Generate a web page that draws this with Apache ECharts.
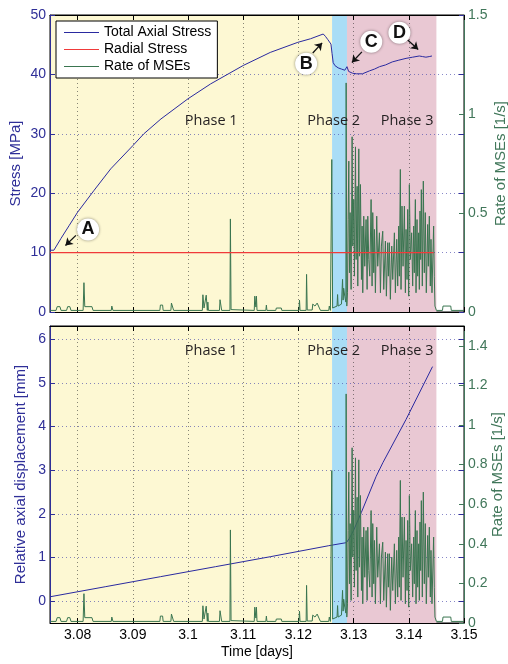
<!DOCTYPE html>
<html><head><meta charset="utf-8">
<script src="https://cdn.jsdelivr.net/npm/echarts@6/dist/echarts.min.js"></script>
<style>html,body{margin:0;padding:0;background:#fff}#c{width:508px;height:664px}</style>
</head><body><div id="c"></div>
<script>
// ---------- tick labels ----------
const xTicks = [3.08, 3.09, 3.10, 3.11, 3.12, 3.13, 3.14, 3.15];
const stressTicks = [0, 10, 20, 30, 40, 50];
const rateTicksTop = [0, 0.5, 1, 1.5];
const dispTicks = [0, 1, 2, 3, 4, 5, 6];
const rateTicksBottom = [0, 0.2, 0.4, 0.6, 0.8, 1, 1.2, 1.4];

// ---------- phases ----------
const phaseNames = ['Phase 1', 'Phase 2', 'Phase 3'];
const phaseStart = [3.075, 3.1261, 3.1288];
const phaseEnd = [3.1261, 3.1288, 3.1450];
const phaseLabelTime = [3.1042, 3.1264, 3.1397];

// ---------- total axial stress [MPa] ----------
const stressTime = [3.0750, 3.0757, 3.0770, 3.0785, 3.0800, 3.0830, 3.0860, 3.0900, 3.0920, 3.0951,
  3.1000, 3.1041, 3.1100, 3.1149, 3.1199, 3.1222, 3.1245, 3.1249, 3.1253, 3.1259,
  3.1261, 3.1263, 3.1266, 3.1272, 3.1278, 3.1284, 3.1288, 3.1291, 3.1298, 3.1305,
  3.1316, 3.1329, 3.1338, 3.1347, 3.1358, 3.1370, 3.1382, 3.1395, 3.1407, 3.1419,
  3.1425, 3.1431, 3.1437, 3.1442];
const stressValue = [10.4, 10.4, 12.4, 14.6, 16.8, 20.5, 24.1, 28.0, 30.0, 32.5,
  35.9, 38.4, 41.5, 43.7, 45.4, 46.0, 46.8, 46.4, 45.9, 45.1,
  43.5, 42.0, 41.5, 41.1, 40.9, 40.7, 41.3, 40.5, 40.2, 40.1,
  40.1, 40.6, 40.9, 41.3, 41.6, 42.1, 42.4, 42.7, 42.9, 43.1,
  43.0, 42.9, 43.0, 43.1];

// ---------- radial stress [MPa] ----------
const radialTime = [3.0750, 3.1445];
const radialValue = [10, 10];

// ---------- relative axial displacement [mm] ----------
const dispTime = [3.075, 3.085, 3.095, 3.105, 3.115, 3.1255, 3.1287, 3.1292, 3.1300, 3.1314, 3.1341, 3.1353, 3.1395, 3.1443];
const dispValue = [0.10, 0.33, 0.56, 0.79, 1.02, 1.27, 1.34, 1.43, 1.62, 2.03, 2.86, 3.17, 4.16, 5.37];

// ---------- rate of MSEs [1/s] ----------
const mseTime = [3.0750, 3.0761, 3.0763, 3.0768, 3.0770, 3.0780, 3.0782, 3.0786, 3.0788, 3.0810,
  3.08115, 3.0813, 3.0826, 3.0828, 3.0861, 3.0862, 3.0864, 3.0949, 3.0950, 3.0954,
  3.0955, 3.0969, 3.0970, 3.0973, 3.0974, 3.1026, 3.1027, 3.1029, 3.1032, 3.1033,
  3.1035, 3.1036, 3.1037, 3.1057, 3.1058, 3.1060, 3.1061, 3.1076, 3.10768, 3.1078,
  3.1120, 3.1121, 3.1123, 3.1124, 3.1125, 3.1141, 3.1142, 3.1143, 3.1159, 3.1160,
  3.1169, 3.1170, 3.1201, 3.1202, 3.1203, 3.1214, 3.12148, 3.1216, 3.1225, 3.1226,
  3.1230, 3.1234, 3.1238, 3.1240, 3.1255, 3.1256, 3.1258, 3.1260, 3.12605, 3.1262,
  3.1265, 3.1270, 3.1271, 3.1272, 3.1278, 3.1280, 3.1281, 3.1282, 3.1284, 3.1286,
  3.12865, 3.12877,
  3.12889, 3.12901, 3.12913, 3.12925, 3.12937, 3.12955, 3.12973, 3.12985, 3.13003, 3.13015,
  3.13034, 3.13046, 3.13064, 3.13076, 3.13094, 3.13106, 3.13124, 3.13142, 3.13154, 3.13166,
  3.13184, 3.13202, 3.13226, 3.13245, 3.13257, 3.13275, 3.13293, 3.13317, 3.13335, 3.13347,
  3.13365, 3.13377, 3.13395, 3.13419, 3.13437, 3.13468, 3.13486, 3.13504, 3.13528, 3.13546,
  3.13576, 3.13594, 3.13618, 3.13630, 3.13648, 3.13666, 3.13691, 3.13709, 3.13739, 3.13757,
  3.13781, 3.13799, 3.13817, 3.13829, 3.13847, 3.13859, 3.13877, 3.13896, 3.13920, 3.13938,
  3.13950, 3.13968, 3.13980, 3.13998, 3.14010, 3.14028, 3.14052, 3.14070, 3.14088, 3.14100,
  3.14119, 3.14131, 3.14149, 3.14161, 3.14179, 3.14191, 3.14203, 3.14215, 3.14227, 3.14245,
  3.14263, 3.14281, 3.14299, 3.14317, 3.14342, 3.14354, 3.14372, 3.14390, 3.14402, 3.14420,
  3.14450, 3.14462, 3.14474, 3.14486, 3.1450, 3.1461, 3.1462, 3.1476, 3.1477, 3.1500];
const mseRate = [0.008, 0.008, 0.027, 0.027, 0.008, 0.008, 0.027, 0.027, 0.008, 0.008,
  0.148, 0.027, 0.027, 0.008, 0.008, 0.030, 0.008, 0.008, 0.035, 0.035,
  0.008, 0.008, 0.045, 0.045, 0.008, 0.008, 0.087, 0.020, 0.020, 0.085,
  0.008, 0.050, 0.008, 0.008, 0.062, 0.062, 0.008, 0.008, 0.470, 0.012,
  0.008, 0.080, 0.025, 0.080, 0.008, 0.008, 0.035, 0.008, 0.008, 0.020,
  0.020, 0.008, 0.008, 0.060, 0.008, 0.008, 0.190, 0.010, 0.010, 0.040,
  0.030, 0.045, 0.020, 0.008, 0.008, 0.030, 0.008, 0.010, 0.770, 0.020,
  0.030, 0.030, 0.088, 0.030, 0.040, 0.165, 0.060, 0.120, 0.080, 0.050,
  1.157, 0.030,
  0.097, 0.467, 0.762, 0.198, 0.502, 0.114, 0.885, 0.333, 0.568, 0.181,
  0.834, 0.265, 0.635, 0.131, 0.824, 0.282, 0.644, 0.164, 0.434, 0.097,
  0.484, 0.231, 0.467, 0.114, 0.484, 0.265, 0.181, 0.568, 0.131, 0.502,
  0.198, 0.417, 0.097, 0.484, 0.231, 0.400, 0.097, 0.333, 0.408, 0.114,
  0.358, 0.080, 0.350, 0.181, 0.350, 0.064, 0.333, 0.164, 0.400, 0.097,
  0.367, 0.131, 0.434, 0.181, 0.720, 0.114, 0.535, 0.231, 0.535, 0.097,
  0.417, 0.164, 0.518, 0.080, 0.644, 0.265, 0.400, 0.131, 0.434, 0.198,
  0.568, 0.097, 0.467, 0.181, 0.400, 0.114, 0.510, 0.265, 0.618, 0.131,
  0.661, 0.198, 0.502, 0.097, 0.442, 0.231, 0.484, 0.131, 0.367, 0.097,
  0.434, 0.181, 0.030, 0.021, 0.008, 0.008, 0.030, 0.030, 0.008, 0.008];

// ---------- annotations (data coordinates of the top panel) ----------
const annotLetters = ['A', 'B', 'C', 'D'];
const annotAt = [[3.0819, 13.9], [3.1214, 41.8], [3.1332, 45.5], [3.1383, 47.0]];
const arrowFrom = [[3.0797, 12.9], [3.1226, 43.6], [3.1315, 43.8], [3.1398, 45.8]];
const arrowTo = [[3.0778, 11.2], [3.1243, 45.3], [3.1297, 42.0], [3.1417, 44.2]];

// ---------- styling ----------
const FONT = '"Liberation Sans", Arial, Helvetica, sans-serif';
const PHASE_FONT = '"Open Sans", "Noto Sans", sans-serif';
const BLUE_AX = '#2f2f98';
const GREEN_AX = '#41775a';
const GRID_H = 'rgba(70,70,170,0.65)';
const GRID_V = 'rgba(40,40,40,0.55)';
const C_STRESS = '#2a2aa0';
const C_RADIAL = '#f03a3a';
const C_MSE = '#3a7550';
const PHASE_COLORS = ['#fdf8d3', '#a9ddf6', '#e9c8d3'];
const xMin = 3.075, xMax = 3.15;

const zip = (a, b) => a.map((v, i) => [v, b[i]]);

const phaseAreas = phaseNames.map((n, i) => [
  { xAxis: phaseStart[i], itemStyle: { color: PHASE_COLORS[i] } },
  { xAxis: phaseEnd[i] }
]);
function phaseLabels(yVal) {
  return phaseNames.map((n, i) => ({
    coord: [phaseLabelTime[i], yVal], symbol: 'rect', symbolSize: 1,
    itemStyle: { color: 'rgba(0,0,0,0)' },
    label: { show: true, formatter: n, color: '#231f20', fontSize: 14.5, fontFamily: PHASE_FONT, position: 'inside' }
  }));
}

function xAx(gridIndex, pos, showLabels) {
  return {
    gridIndex, type: 'value', position: pos, min: xMin, max: xMax, z: 2,
    axisLine: { show: true, onZero: false, lineStyle: { color: '#000', width: 1 } },
    axisTick: { show: true, inside: true, length: 5, customValues: xTicks, lineStyle: { color: '#000' } },
    axisLabel: { show: showLabels, customValues: xTicks, color: '#000', fontSize: 14, fontFamily: FONT, margin: 5,
      formatter: v => String(+v.toFixed(2)) },
    splitLine: { show: pos === 'bottom', lineStyle: { color: GRID_V, type: [1, 3], width: 1 } }
  };
}
function yAx(gridIndex, pos, min, max, ticks, color, opts) {
  return Object.assign({
    gridIndex, type: 'value', position: pos, min, max, z: 2, nameMoveOverlap: false,
    axisLine: { show: true, onZero: false, lineStyle: { color, width: 1 } },
    axisTick: { show: true, inside: true, length: 5, customValues: ticks, lineStyle: { color } },
    axisLabel: { show: true, customValues: ticks, color, fontSize: 14, fontFamily: FONT, margin: 4 },
    splitLine: { show: false }
  }, opts || {});
}

const xAxis = [
  xAx(0, 'bottom', false), xAx(0, 'top', false),
  Object.assign(xAx(1, 'bottom', true), { name: 'Time [days]', nameLocation: 'middle', nameGap: 22, nameMoveOverlap: false,
    nameTextStyle: { color: '#000', fontSize: 14, fontFamily: FONT } }),
  xAx(1, 'top', false)
];
const yAxis = [
  yAx(0, 'left', 0, 50, stressTicks, BLUE_AX, {
    name: 'Stress [MPa]', nameLocation: 'middle', nameGap: 27,
    nameTextStyle: { color: BLUE_AX, fontSize: 15, fontFamily: FONT },
    splitLine: { show: true, lineStyle: { color: GRID_H, type: [1, 3], width: 1 } } }),
  yAx(0, 'right', 0, 1.5, rateTicksTop, GREEN_AX, {
    name: 'Rate of MSEs [1/s]', nameLocation: 'middle', nameGap: 29,
    nameTextStyle: { color: GREEN_AX, fontSize: 15, fontFamily: FONT } }),
  yAx(0, 'right', 0, 50, stressTicks, BLUE_AX, { axisLine: { show: false }, axisLabel: { show: false } }),
  yAx(1, 'left', -0.5, 6.3, dispTicks, BLUE_AX, {
    name: 'Relative axial displacement [mm]', nameLocation: 'middle', nameGap: 22,
    nameTextStyle: { color: BLUE_AX, fontSize: 15, fontFamily: FONT },
    splitLine: { show: true, lineStyle: { color: GRID_H, type: [1, 3], width: 1 } } }),
  yAx(1, 'right', 0, 1.5, rateTicksBottom, GREEN_AX, {
    name: 'Rate of MSEs [1/s]', nameLocation: 'middle', nameGap: 26,
    nameTextStyle: { color: GREEN_AX, fontSize: 15, fontFamily: FONT } }),
  yAx(1, 'right', -0.5, 6.3, dispTicks, BLUE_AX, { axisLine: { show: false }, axisLabel: { show: false } })
];

const annotPoints = annotLetters.map((L, i) => ({
  coord: annotAt[i], symbol: 'circle', symbolSize: 22,
  itemStyle: { color: '#fff', shadowBlur: 3, shadowColor: 'rgba(0,0,0,0.45)' },
  label: { show: true, formatter: L, color: '#111', fontSize: 18, fontWeight: 'bold', fontFamily: FONT, position: 'inside' }
}));
const annotArrows = annotLetters.map((L, i) => [{ coord: arrowFrom[i] }, { coord: arrowTo[i] }]);

const series = [
  { name: 'bgTop', type: 'line', xAxisIndex: 0, yAxisIndex: 0, data: [], z: 0, silent: true,
    markArea: { silent: true, data: phaseAreas },
    markPoint: { silent: true, data: phaseLabels(32.1) } },
  { name: 'Rate of MSEs', type: 'line', xAxisIndex: 0, yAxisIndex: 1, data: zip(mseTime, mseRate),
    symbol: 'none', lineStyle: { color: C_MSE, width: 1 }, itemStyle: { color: C_MSE }, z: 3 },
  { name: 'Radial Stress', type: 'line', xAxisIndex: 0, yAxisIndex: 0, data: zip(radialTime, radialValue),
    symbol: 'none', lineStyle: { color: C_RADIAL, width: 1.2 }, itemStyle: { color: C_RADIAL }, z: 4 },
  { name: 'Total Axial Stress', type: 'line', xAxisIndex: 0, yAxisIndex: 0, data: zip(stressTime, stressValue),
    symbol: 'none', lineStyle: { color: C_STRESS, width: 1 }, itemStyle: { color: C_STRESS }, z: 5,
    markPoint: { silent: true, data: annotPoints },
    markLine: { silent: true, symbol: ['none', 'arrow'], symbolSize: 7, label: { show: false },
      lineStyle: { color: '#111', width: 1.3, type: 'solid' }, data: annotArrows } },
  { name: 'bgBottom', type: 'line', xAxisIndex: 2, yAxisIndex: 3, data: [], z: 0, silent: true,
    markArea: { silent: true, data: phaseAreas },
    markPoint: { silent: true, data: phaseLabels(5.74) } },
  { name: 'Relative axial displacement', type: 'line', xAxisIndex: 2, yAxisIndex: 3, data: zip(dispTime, dispValue),
    symbol: 'none', lineStyle: { color: C_STRESS, width: 1 }, itemStyle: { color: C_STRESS }, z: 3 },
  { name: 'Rate of MSEs', type: 'line', xAxisIndex: 2, yAxisIndex: 4, data: zip(mseTime, mseRate),
    symbol: 'none', lineStyle: { color: C_MSE, width: 1 }, itemStyle: { color: C_MSE }, z: 4 }
];

const chart = echarts.init(document.getElementById('c'), null, { renderer: 'canvas' });
chart.setOption({
  animation: false,
  backgroundColor: '#fff',
  grid: [
    { left: 50, right: 44, top: 15, height: 297, containLabel: false, outerBoundsMode: 'none',
      show: true, borderColor: '#000', borderWidth: 1, backgroundColor: 'rgba(0,0,0,0)' },
    { left: 50, right: 44, top: 326, height: 297, containLabel: false, outerBoundsMode: 'none',
      show: true, borderColor: '#000', borderWidth: 1, backgroundColor: 'rgba(0,0,0,0)' }
  ],
  legend: {
    data: ['Total Axial Stress', 'Radial Stress', 'Rate of MSEs'],
    orient: 'vertical', left: 56, top: 21, icon: 'rect', itemWidth: 35, itemHeight: 1.2, itemGap: 0,
    padding: [3, 6, 3, 8], borderColor: '#000', borderWidth: 1, backgroundColor: '#fff', borderRadius: 0,
    textStyle: { color: '#000', fontSize: 14, fontFamily: FONT, lineHeight: 17 },
    selectedMode: false, z: 10
  },
  tooltip: { show: false },
  xAxis, yAxis, series
});
</script></body></html>
